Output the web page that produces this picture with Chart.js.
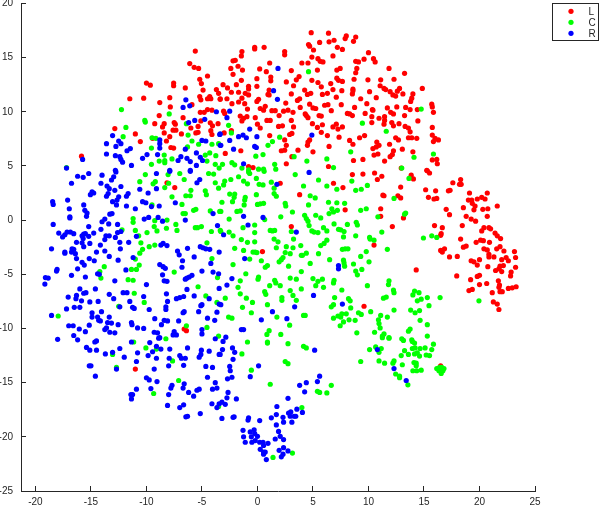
<!DOCTYPE html>
<html><head><meta charset="utf-8">
<script src="https://cdn.jsdelivr.net/npm/chart.js@4"></script>
<style>html,body{margin:0;padding:0;background:#fff}canvas{display:block}</style>
</head><body><canvas id="c" width="600" height="507"></canvas>
<script>
const seriesNames=['L','C','R'];
const seriesColors=['#ff0000','#00ff00','#0000ff'];
const pointsL=[[-5.6,15.6],[-6.1,14.45],[-5.7,14.1],[-5.3,14],[-4.5,13.3],[-5.2,13],[-5.05,12.6],[-4.9,12],[-3.7,12.05],[-3.5,11.7],[-5.2,11.4],[-5.1,11.1],[-4.5,11.2],[-4.3,11.4],[-4.2,11.2],[-3.35,11.2],[-10,12.65],[-9.65,12.45],[-7.55,12.65],[-7.55,12.4],[-6.5,12.2],[-11.5,11.2],[-10.25,11.25],[-7.9,11.3],[-8.8,10.85],[-7.85,10.45],[-5.9,10.65],[-8.85,9.65],[-5.15,9.95],[-4.8,9.95],[-4.5,10.2],[-4.1,10.15],[-6.7,9.45],[-5.1,9.15],[-7.5,9],[-7.4,8.85],[-8.4,8.9],[-9.25,8.9],[-8.55,8.6],[-4.25,8.98],[-4.05,8.7],[-3.55,8.9],[-5.35,8.65],[-6,8.5],[-12.85,8.45],[-7.6,8.3],[-7.35,8.3],[-8.4,8.05],[-5.55,8.05],[-5.35,8.1],[-4.2,8.25],[-4.1,7.9],[-11,7.95],[-6.85,7.95],[-7.9,7.7],[-9.45,7.55],[-10.55,7.25],[-8.2,7.3],[-7.8,6.7],[-7.55,6.65],[-15.85,5.9],
[4.84,17.3],[6.4,17.25],[8,17],[7.9,16.75],[8.85,16.9],[8.65,16.5],[6.45,16.45],[6.9,16.6],[5.6,16.4],[4.6,16.2],[4.7,16.05],[7.2,15.95],[7.65,15.75],[5.05,15.7],[-0.25,15.95],[-0.25,15.8],[0.6,15.95],[-1.4,15.55],[-1.45,15.15],[2.45,15.55],[2.45,15.25],[10,15.45],[6.8,15.15],[4.9,15.05],[5.45,14.9],[5.65,14.65],[5.9,14.6],[10.45,14.9],[10.6,14.6],[9.6,14.85],[8.85,14.65],[9.1,14.6],[-2.2,14.7],[-2,14.75],[1.1,14.5],[4,14.5],[4.55,14.5],[-1.75,14.2],[-2.4,14],[-1.35,13.85],[0.2,13.95],[0.8,13.7],[3.05,13.8],[5.4,13.85],[7.15,13.85],[7.45,14],[8.95,14],[8.85,13.6],[11.85,14],[13.25,13.55],[-2.2,13.45],[3.75,13.25],[3.5,12.95],[1.2,13.2],[1.2,12.85],[-0.05,13.05],[-1.45,12.9],[2.6,12.75],[4.9,12.9],[5.45,12.7],[5.75,12.3],[6.6,12.6],[7.15,13.1],[7.3,12.9],[7.65,12.8],[8.7,13],[9.95,12.95],[11.1,12.95],[12.3,13],[11.05,12.4],[11.4,12.15],[11.55,12.05],[-3.1,12.5],[-2.7,12.2],[-1.9,12.5],[-0.8,12.35],[-0.8,12.1],[-0.05,12.35],[3.25,12.4],[1.05,12],[0.95,11.6],[1.05,11.55],[-2.35,11.8],[-1.7,11.8],[-1.1,11.7],[-0.8,11.55],[4.25,12],[4.5,11.6],[4.8,11.7],[3.05,11.65],[5.85,11.6],[6.3,11.7],[6.8,12.05],[7.6,11.95],[8.6,12.1],[8.6,11.95],[8.55,11.65],[10.1,11.85],[11.95,11.85],[12.2,11.55],[12.45,11.45],[12.6,11.9],[12.8,12.15],[13.1,11.65],[14,11.65],[13.9,11.25],[13.8,10.95],[-3.36,11.15],[-2.75,11.2],[-1.4,11.25],[-1.7,10.9],[-1.15,10.75],[-2.3,10.75],[-0.05,10.95],[0.1,11.15],[3.8,11.2],[3.6,11.05],[2.55,10.8],[7.1,11.35],[9.3,11.2],[10.7,11.3],[9.85,10.75],[4.7,10.7],[6.05,10.6],[6.35,10.65],[7.55,10.65],[-0.9,10.25],[0.25,10.3],[0.7,10.5],[0.55,10.15],[1.3,10.1],[1.6,10.1],[2.35,10.05],[2.75,10.15],[3.85,10.4],[5,10.35],[5.25,10.3],[6.65,10.1],[8.75,10.4],[10.35,10.2],[10.4,10.15],[11.7,10.35],[12.55,10.45],[13.75,10.2],[13.35,10.4],[14.4,10.2],[-3.05,10.05],[-2.95,9.85],[3.2,9.95],[1.95,9.65],[12,9.95],[12.25,9.8],[13.25,9.65],[8.1,9.85],[8.3,9.8],[8.55,9.65],[4.3,9.8],[4.4,9.65],[4.55,9.45],[5.55,9.65],[5.75,9.6],[9.7,9.85],[10.3,9.55],[10.95,9.4],[11.45,9.55],[11.45,9.2],[-1.55,9.6],[-0.95,9.55],[-1.25,9.4],[-1.4,9.15],[3.05,9.2],[0.85,9.2],[1.15,9.2],[-0.2,9.45],[0,8.85],[0.25,8.5],[10.3,9],[11.4,8.85],[12.1,9],[12.25,8.7],[12.75,8.9],[13.3,8.65],[14.45,9.15],[4.95,8.9],[5.85,8.8],[7.1,8.85],[6.8,8.6],[7.25,8.4],[7.65,8.6],[5.4,8.55],[1.9,8.65],[2.25,8.7],[3.25,8.6],[13.6,8.5],[13.75,8.15],[-2.35,8.25],[-3,8.05],[5.75,8.1],[6.3,7.8],[3.1,8],[2.9,7.9],[1.1,7.8],[2.45,7.4],[7.35,7.65],[9.2,7.6],[9.65,7.8],[8.3,7.35],[8.6,7],[12.45,7.6],[12.7,7.4],[13.6,7.6],[13.9,7.6],[14.35,7.55],[10.75,7.2],[4.7,7.4],[4.55,7.2],[4.5,6.9],[6.45,6.8],[11.9,7],[10.95,6.9],[10.7,6.75],[10.4,6.6],[2.6,6.9],[2.45,6.45],[2.15,6.4],[3.65,6.45],[-1.5,6.4],[5,6.3],[13.05,6.55],[12.25,6.4],[14,6.3],[-2.9,6.15],[12.15,6.05],[11.95,5.85],[10.85,6.1],[10.5,6],[3.1,5.85],[9.5,5.6],[8.65,5.5],[11.45,5.45],[2.6,5.2],[6.4,4.95],[-0.8,4.95],[-0.4,4.85],[12.95,4.8],
[14.85,12.15],[15.75,8.55],[15.7,10.7],[15.75,10.45],[15.85,9.95],[15.75,7.85],[16,7.55],[15.85,7.25],[16.3,7.4],[15.75,5.55],[16.15,5.6],[16.2,5.2],[15.25,4.6],
[-8.15,3.45],[-7.45,3],[-6.6,-10.05],[-6.4,-10.2],
[8.55,4.2],[9.5,4.25],[10.55,4.35],[11.2,4.05],[10.8,3.75],[13.85,4.15],[14.05,3.8],[2.05,3.4],[6.85,3.4],[7.7,3],[12.9,3.05],[3.8,2.35],[11.3,2.3],[11.4,2.25],[12.65,2.25],[12.9,2.05],[7.9,0.95],[11.1,1.05],[11.1,0.35],[13.15,0.2],[3.05,-0.6],[12.15,-0.6],[0.45,-2.9],[10.5,-2.3],[14.3,-4.6],[9.6,-7.95],
[15.3,4.55],[15.5,4.35],[18.3,3.75],[17.6,3.45],[18.2,3.3],[18.35,3.3],[15.15,2.8],[16.05,2.7],[17.2,2.7],[17.35,2.75],[19.1,2.5],[20.7,2.5],[15.4,2.1],[15.9,1.95],[16.15,2],[19,1.85],[19.3,1.85],[19.8,1.95],[20.2,2.1],[20.5,1.95],[19.35,1.55],[19.6,1.3],[21.6,1.3],[18.55,1.15],[19.5,0.95],[20.3,1],[20.75,1.05],[17,1],[17.3,0.5],[18.8,0.35],[20.7,0.35],[19.25,0.1],[19.65,-0.1],[15.95,-0.5],[18.45,-0.5],[16.65,-0.7],[20.4,-0.7],[20.2,-1],[20.85,-0.7],[21,-0.8],[16.55,-1.25],[16.5,-1.4],[21.4,-1.2],[21.6,-1.45],[21.9,-1.7],[18.3,-1.75],[19.7,-2.05],[20.1,-1.85],[20.35,-1.9],[20.9,-2.05],[18.55,-2.5],[18.8,-2.4],[21.85,-2.45],[21.55,-2.65],[20.4,-2.65],[20.7,-2.75],[16.85,-2.65],[16.5,-2.8],[16.65,-2.95],[20.85,-3.15],[22.2,-2.85],[23.15,-2.9],[20.85,-3.4],[17.3,-3.4],[18,-3.35],[21.3,-3.4],[22.4,-3.45],[23.25,-3.45],[22.6,-3.75],[22,-3.65],[20,-3.65],[19.25,-3.75],[19.5,-3.85],[19.8,-4.15],[20.75,-4.3],[22.15,-4.2],[21.85,-4.25],[23.25,-4.35],[21.75,-4.5],[21.45,-4.65],[22,-4.75],[22.85,-4.8],[22.8,-5.15],[17.95,-5.15],[19.8,-5.2],[20,-5.1],[19.2,-5.5],[21.7,-5.6],[20,-5.95],[20.65,-5.85],[21.8,-6],[21.75,-6.2],[23.3,-6.15],[22.95,-6.25],[22.6,-6.3],[19.05,-6.5],[19.35,-6.4],[21.85,-6.6],[22.05,-6.6],[21.15,-6.7],[21.25,-7.55],[21.6,-7.75],[21.75,-8.25],
[16.5,-13.45],[-11,-13.75]];
const pointsC=[[-12.25,10.2],[-10.15,9.2],[-10.1,9.05],[-7.95,9.8],[-11.85,8.55],[-12.1,7.7],[-9.5,7.6],[-9.15,7.55],[-6.4,8.9],[-6.25,7.85],[-5.9,7.3],[-5.3,7],[-4.1,7],[-3.5,7.05],[-9.55,6.65],[-6.3,6.75],[-8.4,6],[-3.75,5.95],[-4.7,6],[-4.3,6.2],[-8.85,5.45],[-8.35,5.5],[-8.35,5.3],[-7.7,5.65],[-9.55,5.15],[-4.55,5.45],[-3.8,5.15],[-3.45,4.8],[-17.2,4.85],
[4.6,13.7],[9.45,8.95],[11.6,8.2],[-2.6,8.75],[-2.35,8.05],[2,7.65],[1.35,7.25],[0.95,6.9],[-0.15,5.9],[0.5,6.05],[3.3,5.85],[8.4,6.3],[14.1,5.8],[4.45,5.45],[6.25,5.65],[14.75,10.25],[6.85,4.85],[13,4.8],[-2.3,5.3],[-2.05,5.1],[-3.15,5.15],[1.55,5.15],[-1.4,4.8],[0.55,4.7],[0.1,4.7],[1.65,4.7],[-0.8,4.65],[15.85,6.1],
[-10.1,4.2],[-10.6,3.55],[-9.2,3.55],[-9.4,3.35],[-8.05,4.2],[-7,4.3],[-6.6,3.75],[-8,3.4],[-8.35,3],[-7.7,2.15],[-6.45,2.25],[-6.05,2.25],[-6,2.75],[-4.7,2.7],[-4.6,2.35],[-4.4,4.3],[-3.95,4.25],[-3.8,3.45],[-3.5,2.95],[-6.8,1.45],[-6.7,0.6],[-6.5,0.6],[-5.75,0.9],[-5.55,1],[-4.25,0.85],[-3.4,0.8],[-9.5,1.4],[-11.2,0.15],[-11.2,-0.2],[-9.25,-0.05],[-8.15,0],[-7.35,-0.4],[-9.3,-0.6],[-9.05,-1],[-8.2,-0.75],[-7.25,-0.95],[-11,-0.95],[-9.95,-1.15],[-10.7,-1.45],[-12.2,-0.9],[-5.6,-0.7],[-5.4,-0.7],[-5.05,-0.6],[-4.15,-1.05],[-3.35,-0.95],[-10.5,-2.1],[-9.25,-2.3],[-10.35,-2.7],[-9.75,-2.45],[-10.6,-3.05],[-11,-3.6],[-4.55,-2.1],[-4.1,-3.55],[-10.65,-4.15],[-13.8,-4.3],[-11.35,-4.55],[-10.9,-4.55],[-14.2,-4.75],[-14.1,-5.35],[-7.5,-4.8],[-3.6,-5.3],[-11.65,-5.5],[-11.2,-5.55],[-5.35,-6.15],[-11.1,-6.75],[-4.65,-7],[-10.2,-7.6],[-3.65,-7.6],[-12.5,-7.95],[-17.95,-8.85],[-6.4,-9.75],[-4.55,-9.9],[-3.5,-10.7],[-8.25,-10.95],
[-2.95,3.6],[-3.05,3.25],[-2.4,3.75],[-1.7,4],[-0.8,4.45],[-0.7,4.3],[-0.1,3.85],[-1.25,3.6],[-0.9,3.35],[0.6,4.5],[3.4,4.2],[5.5,3.7],[0.15,3.3],[0.5,3.25],[1.25,3.5],[1.5,2.95],[4.15,3.15],[6.25,3.15],[7.15,2.85],[8.5,3.6],[8.85,2.75],[9.35,2.85],[9.9,3.2],[13.65,3.85],[-0.1,2.35],[1.5,2.45],[1.7,2.2],[-2.5,2.4],[-2.05,2.4],[-2.1,2.1],[-1.1,2.1],[-1.15,1.85],[-2.25,1.7],[-3.2,1.65],[4.75,2.25],[5.2,2.05],[12.3,2],[-1.2,1.4],[0,1.45],[0.25,1.5],[0.55,1.55],[2.5,1.55],[2.55,1.3],[4.6,1.4],[6.4,1.65],[7.15,1.6],[7.85,1.55],[-1.55,0.85],[-1.85,0.8],[-3.3,0.8],[3.15,0.75],[6.7,1.05],[6.85,0.75],[6.45,0.6],[7.2,0.9],[9.3,0.9],[9.8,1.05],[13.35,0.65],[13.25,0.55],[10.85,0.3],[2.1,0.3],[-2.55,0.1],[0.65,0.05],[4.25,0.45],[4.4,0.15],[4.55,-0.1],[5.25,0.45],[5.7,0.2],[4.65,-0.5],[6.9,-0.35],[8.1,-0.4],[8.9,-0.2],[9,-0.45],[-1.3,-0.7],[-0.25,-0.45],[5.95,-0.7],[6.25,-1],[7.3,-0.85],[7.5,-0.9],[7.8,-1.05],[1.15,-0.95],[1.35,-1],[1.55,-0.95],[3.05,-1.05],[4.9,-1],[5.1,-1.1],[5.45,-1.15],[-0.25,-1.15],[-2.55,-1.1],[-3.3,-1.05],[-2.2,-1.45],[7.75,-1.55],[8.85,-1.45],[11.2,-1.1],[3.25,-1.75],[1.5,-1.75],[1.85,-2],[-1.45,-1.8],[-0.9,-2.05],[-0.25,-2],[6.25,-1.85],[6,-2.15],[10.1,-1.6],[10.15,-1.75],[10.5,-1.85],[-2.05,-2.6],[-1.25,-2.8],[1.7,-2.55],[2.6,-2.45],[3.2,-2.55],[3.9,-2.35],[5.7,-2.35],[7.65,-2.7],[7.9,-2.65],[8.15,-2.65],[9.8,-2.9],[11.7,-2.7],[-0.4,-2.95],[-0.2,-2.95],[-0.05,-3],[2.5,-3],[2.95,-3.1],[3.95,-3.25],[4.05,-3.25],[4.4,-3.05],[5.5,-3.1],[9.3,-3.35],[-0.7,-3.6],[0.35,-3.75],[2.3,-3.45],[2.15,-3.65],[1.95,-3.85],[6.5,-3.65],[7.75,-3.7],[7.8,-3.95],[10.05,-3.85],[-2.2,-4.1],[4.75,-4],[8.65,-4.05],[7.85,-4.25],[0.9,-4.2],[0.7,-4.35],[2.8,-4.25],[9.4,-4.55],[8.85,-4.7],[9,-5.05],[3.95,-4.75],[-1.05,-4.95],[0.1,-5.25],[0.05,-5.45],[2.95,-5.35],[3.5,-5.45],[5,-5.4],[5.85,-5.45],[5.45,-5.65],[-1.55,-5.6],[1.55,-5.55],[1.65,-5.8],[6.9,-5.55],[6.85,-5.8],[11.85,-5.6],[11.8,-5.95],[1.1,-6.05],[2.05,-6.05],[5.25,-6.05],[9.9,-6.05],[-1.75,-6.2],[5.95,-6.2],[3.95,-6.35],[0.65,-6.6],[0.75,-6.85],[2.95,-6.5],[3.2,-6.95],[7.6,-6.45],[12.25,-6.45],[12.3,-6.7],[14.15,-6.55],[14,-6.9],[14.55,-6.7],[-1.55,-6.8],[-2.9,-7.2],[-1,-7.2],[2.2,-7.15],[2.2,-7.4],[6.95,-7.15],[8.2,-7.25],[8.35,-7.45],[11.35,-7.2],[11.6,-7.1],[3.5,-7.4],[-0.45,-7.6],[0.9,-7.8],[-1.35,-8.05],[6.85,-7.8],[6.65,-8],[8.4,-8.1],[13.8,-8.3],[12.3,-8.3],[14.2,-8.55],[-0.55,-8.55],[9.1,-8.55],[9.35,-8.7],[10.2,-8.45],[8,-8.65],[7.6,-8.65],[7.25,-8.85],[7.5,-8.95],[4.15,-8.8],[4.3,-8.8],[1.75,-8.95],[-2.6,-8.95],[-2.3,-9.05],[6.85,-9.05],[11.1,-8.8],[11.7,-8.95],[10.9,-9.2],[8.25,-9.2],[8.8,-9.25],[7.75,-9.4],[10.95,-9.55],[2.9,-9.7],[7.45,-9.75],[11.05,-9.95],[1.05,-10.2],[0.85,-10.55],[2.1,-10.55],[8.95,-10.4],[10.55,-10.35],[11.4,-10.5],[11.25,-10.7],[13.75,-10.05],[13.6,-10.25],[11.85,-10.85],[13,-10.95],[13.9,-11.05],
[14.95,-1.65],[15.7,-1.45],[16.15,-1.6],[19.95,-7.45],[14.75,-7.3],[14.4,-7.45],[15.3,-7.15],[16.45,-7.15],[15.45,-7.9],[14.6,-8.35],[14.65,-9.25],[15.3,-9.65],[15.3,-10.7],
[13.95,-11.2],[14.15,-11.35],[15.85,-11.45],[14.2,-11.8],[13.95,-11.85],[14.65,-11.85],[15.1,-11.8],[15.7,-11.95],[13.25,-12.05],[13.6,-12.4],[12.95,-12.5],[14.15,-12.35],[14.4,-12.25],[14.6,-12.55],[15.2,-12.45],[15.5,-12.5],[12.3,-13],[12.2,-13.2],[13.05,-13.35],[14.1,-13.15],[14.3,-13.2],[14.3,-13.45],[14,-13.9],[14.35,-13.9],[14.75,-13.85],[16.15,-13.7],[16.4,-13.6],[16.6,-13.6],[16.8,-13.7],[16.35,-13.9],[16.7,-13.9],[16.55,-14.15],[12.45,-14.2],[12.8,-14.4],[12.8,-14.55],[13.55,-15.2],
[-0.9,-11.25],[0.9,-11.25],[0.9,-11.35],[2.75,-11.4],[4.15,-11.65],[4.4,-11.8],[-1.4,-12.35],[-0.55,-13.85],[2.5,-13.05],[2.75,-13.25],[1.15,-15.15],[6.65,-15.25],[5.4,-15.8],[5.6,-15.9],[6.25,-15.95],[4,-17.3],[3.15,-21.5],[1.4,-21.9],[9.3,-13.05],[10.1,-11.95],[10.65,-11.7],[10.95,-12.2],[11.15,-11.85],[10.95,-13],[11.45,-13.2],[11.25,-10.85],[11.85,-10.9],[13.15,-11.1],
[-11.15,-11.25],[-10.05,-11.8],[-13.05,-12.4],[-9.1,-11.9],[-7.65,-13],[-12.7,-13.6],[-7.1,-14.8],[-9.35,-16],[-3.5,-17.2]];
const pointsR=[[-6.45,11.1],[-6.7,10.4],[-6.1,10.55],[-3.7,10],[-5.65,9.2],[-4.75,9.3],[-6.2,9],[-3.4,7.9],[-13.05,7.8],[-12.5,7.3],[-12.3,7.05],[-13.6,7.05],[-12.75,6.8],[-11.45,6.6],[-11.75,6.4],[-8.8,7.4],[-8.8,7.05],[-8.8,6.65],[-5,7.35],[-4.65,7.3],[-3.35,6.9],[-6.5,6.55],[-5.5,6.2],[-9.95,6.05],[-9,6.05],[-13.6,6.1],[-12.8,5.95],[-12.4,5.85],[-12.3,5.6],[-12.15,5.35],[-15.75,5.6],[-10.35,5.7],[-6.9,5.85],[-6.35,5.7],[-7.15,5.5],[-6.05,5.4],[-5.15,5.8],[-4.95,5.5],[-11.35,5.05],[-5.5,5.05],[-17.2,4.8],[-7.9,4.6],[-6.05,4.6],[-12.8,4.6],
[1.85,14],[1.45,11.95],[1.8,11.15],[-2.5,10.05],[-2.75,9.45],[-0.7,8.4],[-3.36,7.95],[4.9,7.85],[-1.7,7.7],[-1.3,7.85],[-1,7.6],[-0.05,7.7],[-2.5,7.35],[-3.3,6.9],[-0.25,6.8],[-0.1,6.7],[-2.15,6.55],[-1.25,5.2],
[-15.2,4.3],[-16.2,4.05],[-15.7,3.95],[-14,4.15],[-12.75,4.45],[-12.95,4],[-13.15,3.7],[-16.75,3.4],[-14.1,3.4],[-13.55,3.15],[-13.35,2.9],[-12.3,3.1],[-12.85,2.75],[-13.45,2.45],[-13.6,2.2],[-14.9,2.6],[-14.75,2.5],[-15.05,2.35],[-11.65,2.45],[-11.8,2.2],[-12.5,2.15],[-12.65,1.85],[-13.05,1.7],[-12.7,1.4],[-17.1,1.85],[-18.45,1.7],[-18.4,1.45],[-15.65,1.4],[-16.95,1.05],[-15.55,0.9],[-15.35,0.65],[-15.4,0.35],[-16.9,0.3],[-16.9,0.2],[-11.8,1.3],[-11,1.05],[-13.1,0.6],[-13.3,0.55],[-10.6,2.85],[-9.85,2.5],[-9.1,2.9],[-9.1,4.3],[-7.9,4.5],[-6.05,4.5],[-5.45,3.45],[-5.2,3.75],[-7.4,1.6],[-10.35,1.7],[-10.05,1.6],[-8.85,1.3],[-9.55,1.25],[-4,0.6],[-6.5,0],[-10.2,0.1],[-9.8,0.25],[-8.95,0.25],[-8.55,-0.1],[-14,-0.15],[-13.75,0.1],[-13.4,-0.35],[-12.6,-0.4],[-18.4,-0.4],[-15.2,-0.6],[-14.1,-0.85],[-17.9,-1.2],[-17.55,-1.55],[-17.35,-1.35],[-17.15,-1.1],[-16.85,-1.1],[-16.55,-1.25],[-15.8,-1.45],[-15.65,-1.3],[-15.5,-1.25],[-15.2,-1.5],[-15.7,-1.7],[-14.75,-1.2],[-13.65,-1.45],[-13.35,-1.45],[-13.75,-1.8],[-12.6,-1.15],[-12.3,-1.05],[-12.8,-1.6],[-10.9,-1.5],[-3.6,-0.5],[-16.3,-2.05],[-15.8,-2.1],[-15.65,-2.45],[-15.1,-2.15],[-14.15,-2.3],[-12.4,-2.05],[-11.6,-2.05],[-12.35,-2.65],[-18.55,-2.65],[-17.35,-2.95],[-17.35,-3.05],[-16.7,-2.65],[-16.55,-2.7],[-16.75,-2.95],[-16.4,-3.1],[-14.5,-2.95],[-13.75,-2.85],[-13.35,-3.35],[-16.3,-3.55],[-15.15,-3.55],[-14.7,-3.75],[-12.55,-3.7],[-11.2,-3.45],[-15.8,-3.9],[-15.6,-4.15],[-16.2,-4.5],[-18.05,-4.55],[-18.1,-4.7],[-11.85,-4.6],[-8.5,-2.15],[-8.7,-2.3],[-8.15,-2.35],[-7.2,-2.85],[-7.05,-3.2],[-6.3,-2.6],[-5.15,-2.45],[-4.9,-2.55],[-4.65,-2.65],[-4.3,-2.7],[-3.45,-2.95],[-5.7,-3.4],[-6.75,-3.75],[-4.2,-4],[-6.8,-4.35],[-8.8,-4.1],[-8.5,-4.3],[-8.3,-4.45],[-5,-4.7],[-4,-4.8],[-3.5,-4.95],[-8.55,-5.05],[-16.75,-5.1],[-15.5,-5.25],[-14.4,-4.95],[-14.25,-5],[-19.1,-5.3],[-18.85,-5.35],[-19.15,-5.9],[-12.85,-5.6],[-6.35,-5.35],[-6.5,-5.45],[-6.15,-5.25],[-5.9,-5.1],[-8.4,-5.6],[-8.15,-5.65],[-10,-5.95],[-3.45,-6.3],[-16,-6.35],[-6.35,-6.4],[-14.6,-6.35],[-15.65,-6.75],[-15.45,-6.7],[-16.3,-6.95],[-17.05,-7.1],[-16.35,-7.25],[-15.85,-7.45],[-15.1,-7.55],[-14.35,-7.5],[-13.35,-6.85],[-12.95,-7.25],[-12.1,-6.7],[-11.75,-6.7],[-11.5,-7.5],[-10.25,-7.05],[-8.2,-6.8],[-8.1,-7.5],[-7.3,-7.25],[-7,-7.15],[-6.65,-7.05],[-5.7,-7],[-4.35,-7.25],[-5,-7.8],[-5.1,-7.9],[-3.45,-7.75],[-11.25,-8.05],[-11.1,-8.15],[-12.4,-8],[-9.75,-8.25],[-8.25,-8],[-8.25,-8.25],[-16.5,-8.05],[-16,-8.05],[-17.2,-8.2],[-14.9,-8.55],[-14.05,-8.45],[-6.6,-8.45],[-6.7,-8.55],[-5.3,-8.45],[-3.65,-8.5],[-18.55,-8.8],[-14.9,-8.95],[-14.4,-8.95],[-14.3,-9.25],[-14.15,-9.3],[-13.35,-8.95],[-13.5,-9.45],[-13.15,-9.5],[-12.55,-9.65],[-9.25,-9.1],[-8.4,-9.25],[-8.1,-9.3],[-7.1,-9.3],[-8.65,-9.65],[-4.5,-9.05],[-3.85,-9.25],[-11.35,-9.45],[-11.3,-9.65],[-17,-9.75],[-16.6,-9.75],[-15.15,-9.7],[-16.05,-10.05],[-13.75,-10.1],[-13.6,-9.95],[-10.8,-9.95],[-10.25,-10],[-15.5,-10.3],[-13.3,-10.35],[-12.85,-10.4],[-9.3,-10.35],[-9,-10.4],[-7.5,-10.3],[-7.6,-10.6],[-7.3,-10.6],[-5,-10.1],[-5,-10.5],[-16.55,-10.65],[-18,-11],[-8.8,-10.85],
[4.65,4.4],[1.75,3.3],[-1.25,0.35],[0.5,0.25],[-0.85,-0.45],[3.5,-1.1],[-3.05,-1.35],[-1.15,-3.55],[7.3,-4.2],[7.3,-4.5],[-2.3,-5.4],[-2.75,-6],[5.05,-6.95],[-3.3,-7.8],[3.35,-8],[7.65,-7.75],[1.35,-8.45],[2.65,-9.1],[0.35,-9.2],[-1.45,-10.1],[-1.25,-10.1],[-2.85,-10.8],
[12.3,-13.7],[13.4,-14.8],[10.8,-11.95],
[5.15,-12],[-3.1,-11.2],[-2.25,-11.8],[-2.05,-12.2],[-3.15,-11.95],[-3.36,-12.4],[-2.2,-12.85],[0.1,-13.45],[-2.5,-13.5],[-2.45,-13.9],[-2.3,-14.5],[-2.7,-14.65],[-0.65,-14.45],[5.6,-14.4],[5.4,-14.9],[4.4,-15],[3.8,-15.25],[4.25,-15.85],[-2.65,-15.9],[-2.75,-16.4],[-1.9,-16.5],[-3.2,-16.8],[-2.9,-17],[2.75,-16.45],[1.75,-17.2],[3.55,-17.45],[1.7,-17.95],[1.25,-18.25],[2.3,-18.2],[2.35,-18.65],[2.8,-17.8],[3,-17.7],[2.95,-18.1],[3.3,-18.1],[3.45,-18.1],[4.05,-17.75],[3.1,-18.65],[-3.2,-18.3],[-2.2,-18.2],[-2.1,-18.15],[-0.8,-18.25],[-0.85,-18.45],[0.2,-18.5],[1.7,-18.9],[1.9,-19.5],[2.05,-19.95],[2.35,-20.25],[1.6,-20.2],[-1.3,-19.4],[-1.25,-20],[-1.1,-20.5],[-0.65,-19.55],[-0.3,-19.35],[-0.25,-19.7],[0,-19.95],[-0.55,-20],[-0.5,-20.5],[-0.2,-20.35],[0.2,-20.5],[0.5,-20.5],[0.55,-20.8],[0.95,-20.6],[0.25,-21.15],[0.55,-21.4],[0.7,-21.4],[0.55,-21.6],[0.8,-22.1],[1.95,-21.25],[2.35,-21],[2.75,-21.3],[2.3,-21.6],[2.15,-21.85],
[-16.2,-11.05],[-15.4,-11.75],[-15.1,-12],[-14.5,-12],[-14.65,-11.25],[-14.5,-11.15],[-13.7,-12.35],[-13.05,-12.2],[-12.4,-11.85],[-12,-12.65],[-11.35,-11.25],[-10.8,-12.25],[-9.7,-11.3],[-8.9,-10.9],[-9.1,-11.65],[-9.45,-12.15],[-8.7,-11.9],[-9.85,-12.5],[-9.1,-12.75],[-7.9,-11.9],[-7.95,-12.75],[-10.9,-13.05],[-15,-13.45],[-15.15,-13.45],[-12.7,-13.75],[-9.3,-13.75],[-8,-13.45],[-7,-12.5],[-6.85,-12.75],[-6.5,-12.75],[-6.3,-11.8],[-6.65,-13.4],[-5.05,-12],[-5.1,-12.4],[-5.25,-12.65],[-4.35,-12.1],[-3.45,-12.4],[-3.8,-10.95],[-4.65,-13.5],[-4.05,-13.6],[-14.6,-14.4],[-10,-14.55],[-9.75,-14.75],[-9.05,-14.9],[-4.5,-14.5],[-3.8,-15],[-6.6,-15.1],[-7.7,-15.25],[-7.8,-15.5],[-6.7,-15.5],[-9.6,-15.55],[-10.9,-15.6],[-6.2,-15.9],[-5.45,-15.7],[-5.25,-15.6],[-4.05,-15.6],[-3.65,-15.5],[-11.4,-16.1],[-11.25,-16.1],[-11.35,-16.5],[-8,-16.1],[-5.75,-16.25],[-8.1,-17.1],[-7,-17.3],[-6.65,-17.05],[-4.1,-16.95],[-3.65,-17.3],[-3.45,-16.95],[-6.45,-18.15],[-6.3,-18.1],[-5.15,-17.85]];
const xTickValues=[-20,-15,-10,-5,0,5,10,15,20,25];
const yTickValues=[-25,-20,-15,-10,-5,0,5,10,15,20];
const toXY=p=>({x:p[0],y:p[1]});
const seriesPoints=[pointsL,pointsC,pointsR];

const axisColor='#262626';
const font={family:'"Liberation Sans",Arial,sans-serif',size:10};
const noPad=s=>{s.paddingTop=0;s.paddingBottom=0;s.paddingLeft=0;s.paddingRight=0;};

const boxLegend={id:'boxLegend',afterDraw(chart){
  const ctx=chart.ctx;ctx.save();
  ctx.fillStyle='#fff';ctx.fillRect(552.5,3.5,46,37);
  ctx.strokeStyle=axisColor;ctx.lineWidth=1;ctx.strokeRect(552.5,3.5,46,37);
  ctx.font='10px "Liberation Sans",Arial,sans-serif';ctx.textBaseline='middle';ctx.textAlign='left';
  chart.data.datasets.forEach((d,i)=>{
    const y=11.3+i*11;
    ctx.fillStyle=d.backgroundColor;ctx.beginPath();ctx.arc(571,y,2.6,0,Math.PI*2);ctx.fill();
    ctx.fillStyle=axisColor;ctx.fillText(d.label,588.5,y+0.5);
  });
  ctx.restore();
}};

new Chart(document.getElementById('c'),{
  type:'scatter',
  data:{datasets:seriesNames.map((name,i)=>({
    label:name,data:seriesPoints[i].map(toXY),
    backgroundColor:seriesColors[i],borderWidth:0,pointRadius:2.6,pointHoverRadius:2.6,
    order:3-i
  }))},
  plugins:[boxLegend],
  options:{
    responsive:false,animation:false,
    layout:{padding:{left:0,top:3.4,right:65,bottom:0}},
    plugins:{legend:{display:false},tooltip:{enabled:false}},
    scales:{
      x:{type:'linear',min:-21.3,max:25,
        afterBuildTicks:s=>{s.ticks=xTickValues.map(v=>({value:v}));},
        afterFit:s=>{s.height=16;noPad(s);},
        border:{display:true,color:axisColor,width:1},
        grid:{drawOnChartArea:false,drawTicks:true,tickLength:-5,color:axisColor},
        ticks:{font,color:axisColor,padding:10,maxRotation:0,autoSkip:false,includeBounds:false,callback:v=>String(v)}},
      y:{type:'linear',min:-25,max:20,
        afterBuildTicks:s=>{s.ticks=yTickValues.map(v=>({value:v}));},
        afterFit:s=>{s.width=21;noPad(s);},
        border:{display:true,color:axisColor,width:1},
        grid:{drawOnChartArea:false,drawTicks:true,tickLength:-5,color:axisColor},
        ticks:{font,color:axisColor,padding:13,autoSkip:false,includeBounds:false,callback:v=>String(v)}}
    }
  }
});
</script></body></html>
